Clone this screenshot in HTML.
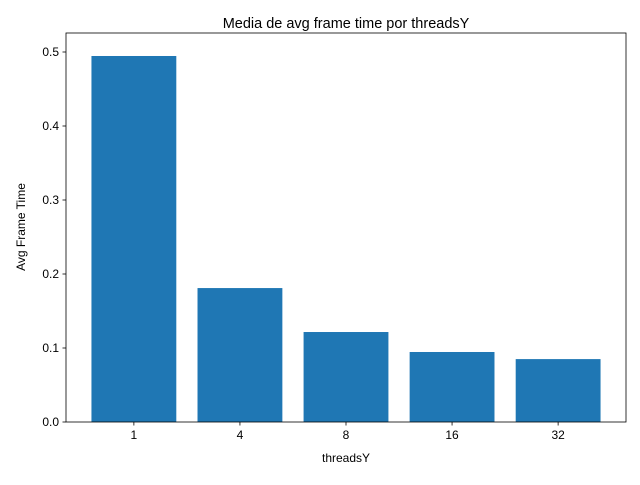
<!DOCTYPE html>
<html><head><meta charset="utf-8"><style>body{margin:0;background:#fff}svg{font-family:"Liberation Sans","DejaVu Sans",sans-serif}</style></head>
<body>
<svg id="chart" width="640" height="480" xmlns="http://www.w3.org/2000/svg">
<rect width="640" height="480" fill="#fff"/>
<text x="346" y="28" font-size="14.5" text-anchor="middle" fill="#000">Media de avg frame time por threadsY</text>
<g id="plot"></g>
<text x="346" y="462" font-size="12" text-anchor="middle">threadsY</text>
<text transform="translate(25,227) rotate(-90)" font-size="12" text-anchor="middle">Avg Frame Time</text>
</svg>
<script>
const categories = ["1","4","8","16","32"];
const values = [0.4946, 0.181, 0.1216, 0.0946, 0.085];
const yTicks = [0, 0.1, 0.2, 0.3, 0.4, 0.5];
const L=66,R=626,T=33,B=422;
const xMin=-0.64,xMax=4.64;
const x=i=>L+(i-xMin)/(xMax-xMin)*(R-L);
const y=v=>B-v/0.5*370;
const ns="http://www.w3.org/2000/svg";
const g=document.getElementById('plot');
function mk(t,a){const e=document.createElementNS(ns,t);for(const k in a)e.setAttribute(k,a[k]);g.appendChild(e);return e;}
const bw=(x(0.8)-x(0));
values.forEach((v,i)=>{
  const r=mk('rect',{x:x(i)-bw/2,y:y(v),width:bw,height:B-y(v),fill:'#1f77b4'});
  
  
  const tk=mk('line',{x1:x(i),x2:x(i),y1:B,y2:B+3.5,stroke:'#000','stroke-width':0.8});
  
  
  const t=mk('text',{x:x(i),y:B+17,'font-size':12,'text-anchor':'middle'});
  t.textContent=categories[i];
  
  
});
yTicks.forEach(v=>{
  const tk=mk('line',{x1:L-3.5,x2:L,y1:y(v),y2:y(v),stroke:'#000','stroke-width':0.8});
  
  
  const t=mk('text',{x:L-7,y:y(v)+4,'font-size':12,'text-anchor':'end'});
  t.textContent=v.toFixed(1);
  
  
});
const f=mk('rect',{x:L,y:T,width:R-L,height:B-T,fill:'none',stroke:'#000','stroke-width':0.8});


</script>
</body></html>
